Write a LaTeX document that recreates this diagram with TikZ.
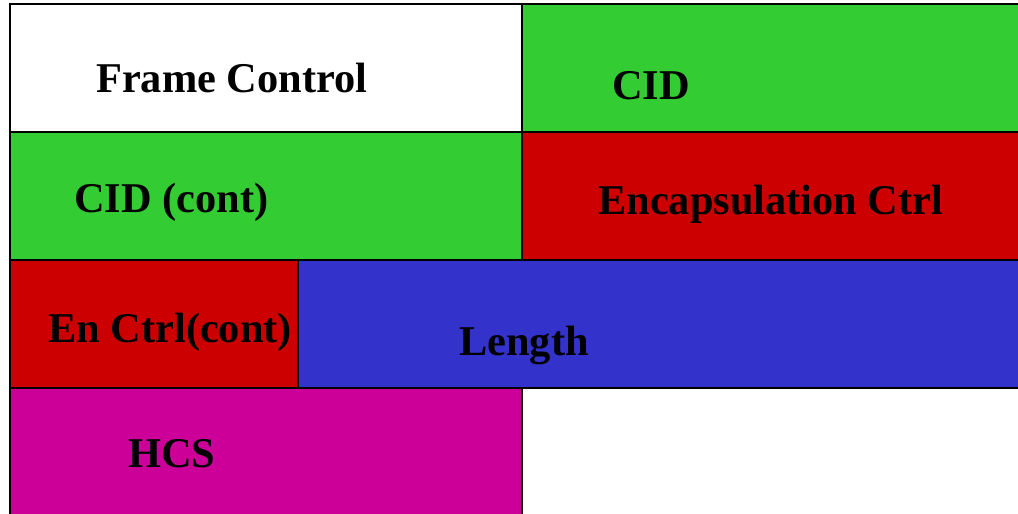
\documentclass[tikz,border=0pt]{standalone}
\usepackage{fontspec}
\setmainfont{Liberation Serif}
\definecolor{fgreen}{HTML}{33CC33}
\definecolor{fred}{HTML}{CC0000}
\definecolor{fblue}{HTML}{3333CC}
\definecolor{fmag}{HTML}{CC0099}
\begin{document}
\begin{tikzpicture}[x=1pt,y=-1pt,
  field/.style={line width=2pt},
  lab/.style={anchor=base west,inner sep=0pt,font=\fontsize{42.4}{48}\selectfont\bfseries}]
\useasboundingbox (0,0) rectangle (1018,514);
\fill[white] (0,0) rectangle (1018,514);
% fields
\fill[fgreen] (522,4) rectangle (1018,132);
\fill[fgreen] (10,132) rectangle (522,260);
\fill[fred] (522,132) rectangle (1018,260);
\fill[fred] (10,260) rectangle (298,388);
\fill[fblue] (298,260) rectangle (1018,388);
\fill[fmag] (10,388) rectangle (522,514);
% borders
\draw[field] (1018,4) -- (9,4);
\draw[field] (10,3) -- (10,514);
\draw[field] (10,132) -- (1018,132);
\draw[field] (10,260) -- (1018,260);
\draw[field] (10,388) -- (1018,388);
\draw[field] (522,4) -- (522,260);
\draw[field] (298,260) -- (298,388);
\draw[field] (522,388) -- (522,514);
% labels
\node[lab] (fc) at (96,92) {Frame Control};
\node[lab] (cid) at (612,99) {CID};
\node[lab] (cidc) at (74,212) {CID (cont)};
\node[lab] (enc) at (598,214) {Encapsulation Ctrl};
\node[lab] (encc) at (48,342) {En Ctrl(cont)};
\node[lab] (len) at (459,355) {Length};
\node[lab] (hcs) at (128,467) {HCS};
\end{tikzpicture}
\end{document}
